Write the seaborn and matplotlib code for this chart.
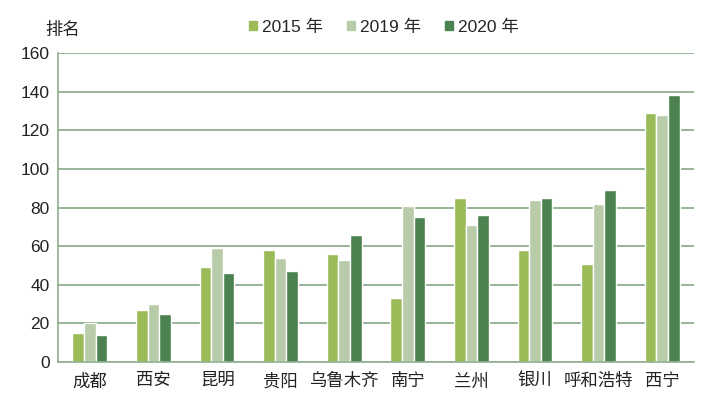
import numpy as np
import pandas as pd
import matplotlib
matplotlib.use('Agg')
import matplotlib.pyplot as plt
import seaborn as sns

# data
cities = ['成都', '西安', '昆明', '贵阳', '乌鲁木齐', '南宁', '兰州', '银川', '呼和浩特', '西宁']
years = ['2015 年', '2019 年', '2020 年']
rank_2015 = [15, 27, 49, 58, 56, 33, 85, 58, 51, 129]
rank_2019 = [20, 30, 59, 54, 53, 81, 71, 84, 82, 128]
rank_2020 = [14, 25, 46, 47, 66, 75, 76, 85, 89, 138]

df = pd.DataFrame({'城市': cities * 3,
                   '年份': np.repeat(years, len(cities)),
                   '排名': rank_2015 + rank_2019 + rank_2020})

sns.set_style('white')
plt.rcParams['font.family'] = ['Liberation Sans', 'Noto Sans CJK SC', 'DejaVu Sans']

palette = ['#9BBB59', '#B8CCA9', '#4B8250']
line_col = '#8FAF8F'

fig = plt.figure(figsize=(7.14, 3.95), dpi=100)
ax = fig.add_axes([58 / 714, 33 / 395, 636 / 714, 309 / 395])
sns.barplot(data=df, x='城市', y='排名', hue='年份', palette=palette,
            width=0.55, saturation=1, ax=ax, legend=False)

ax.set_ylim(0, 160)
ax.set_xlim(-0.5, len(cities) - 0.5)
ax.set_yticks(range(0, 161, 20))
ax.yaxis.grid(True, color=line_col, linewidth=1.3)
ax.set_axisbelow(True)
ax.set_xlabel('')
ax.set_ylabel('')
for s in ['top', 'right']:
    ax.spines[s].set_visible(False)
for s in ['left', 'bottom']:
    ax.spines[s].set_color(line_col)
    ax.spines[s].set_linewidth(1.2)

ax.set_xticks(range(len(cities)))
ax.set_xticklabels(cities, fontsize=12.5, color='#222222')
ax.tick_params(axis='x', length=0, pad=8)
ax.set_xticks(np.arange(-0.5, len(cities), 1), minor=True)
ax.tick_params(axis='x', which='minor', length=4, color=line_col, width=1)
ax.tick_params(axis='y', length=4, color=line_col, labelsize=12.5, labelcolor='#222222', pad=2)

fig.text(45 / 714, 1 - 30 / 395, '排名', fontsize=12.5, color='#222222', va='center')

handles = [plt.Rectangle((0, 0), 1, 1, color=c) for c in palette]
fig.legend(handles, years, loc='center', bbox_to_anchor=(384 / 714, 1 - 27 / 395),
           ncol=3, frameon=False, fontsize=12.5, handlelength=0.45, handleheight=0.45,
           handletextpad=0.3, columnspacing=1.4)

fig.savefig('out.png', dpi=100)
